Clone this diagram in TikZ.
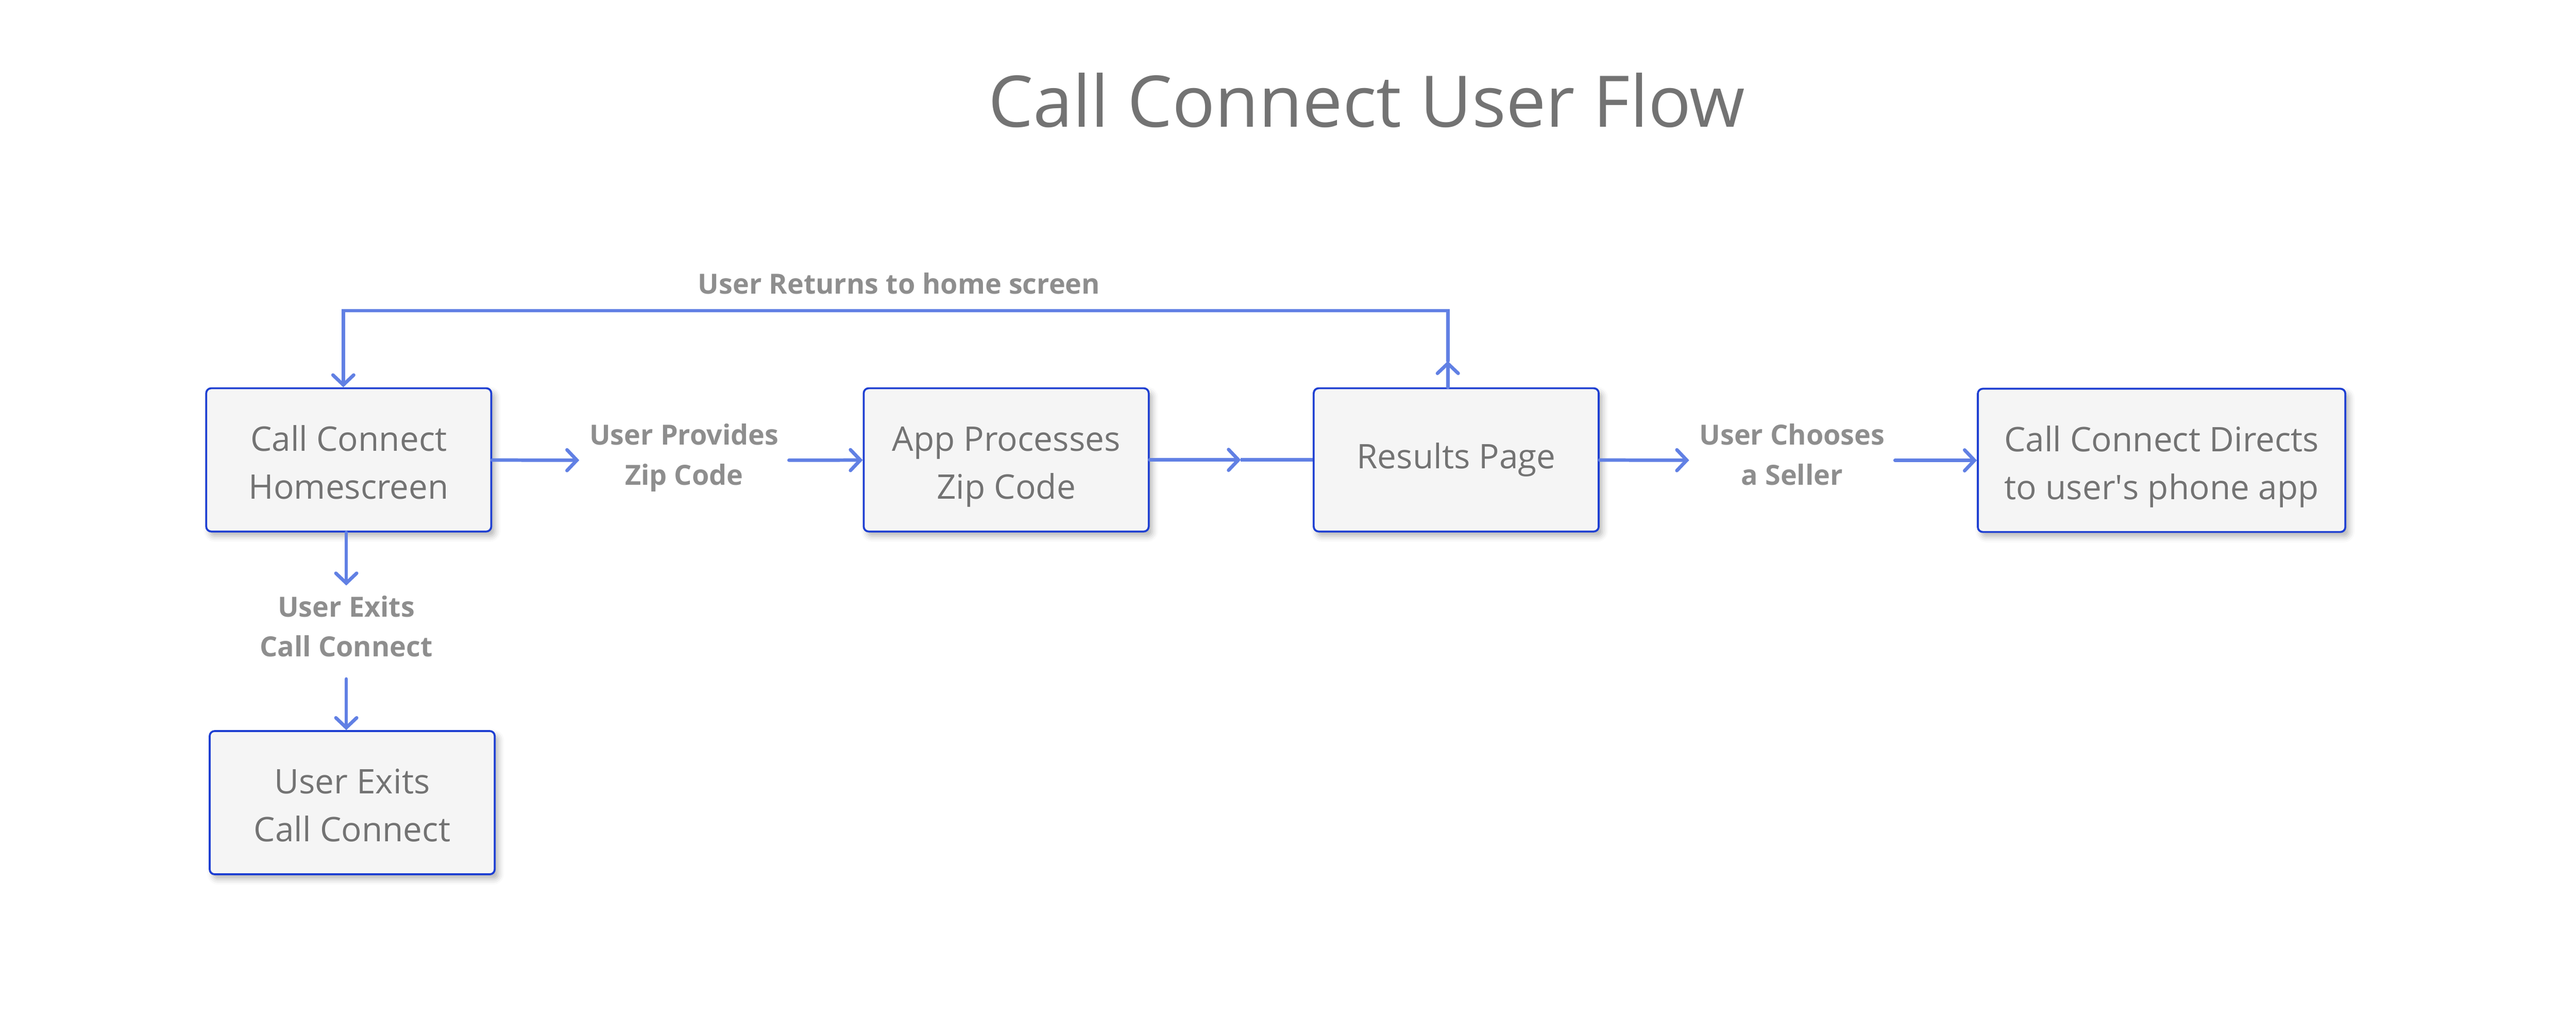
\documentclass[tikz,border=0pt]{standalone}
\usepackage{fontspec}
\setmainfont{Open Sans}
\usetikzlibrary{arrows.meta, positioning, shadows.blur}
\definecolor{bordecaja}{HTML}{1E3FD2}
\definecolor{fondocaja}{HTML}{F5F5F5}
\definecolor{textocaja}{HTML}{737373}
\definecolor{textoetiqueta}{HTML}{8E8E8E}
\definecolor{flujo}{HTML}{6180E4}
\begin{document}
\begin{tikzpicture}[x=1cm, y=-1cm,
  caja/.style={draw=bordecaja, line width=1.1pt, rounded corners=0.1cm, fill=fondocaja,
    minimum width=5.77cm, minimum height=2.9cm, align=center, text=textocaja,
    font=\fontsize{19.5pt}{27.6pt}\selectfont,
    blur shadow={shadow xshift=0.07cm, shadow yshift=-0.09cm, shadow blur radius=0.12cm, shadow opacity=30}},
  dos lineas/.style={text height=47pt, text depth=2.2pt},
  etiqueta/.style={align=center, text=textoetiqueta, inner sep=0.2cm,
    font=\bfseries\fontsize{16pt}{23pt}\selectfont,
    execute at begin node=\strut, execute at end node=\strut},
  flecha/.style={draw=flujo, line width=2pt, line cap=round,
    -{Straight Barb[length=0.2cm, width=0.42cm, line cap=round]}},
  linea/.style={draw=flujo, line width=2pt}]
\useasboundingbox (0,0) rectangle (52.15,20.60);

% Titulo
\node[anchor=base, text=textocaja, font=\fontsize{41pt}{48pt}\selectfont] (titulo) at (27.67,2.57) {Call Connect User Flow};

% Cajas
\node[caja, dos lineas] (home) at (7.06,9.31) {Call Connect\\Homescreen};
\node[caja, dos lineas] (app) at (20.37,9.31) {App Processes\\Zip Code};
\node[caja] (results) at (29.48,9.31) {Results Page};
\node[caja, dos lineas, minimum width=7.44cm] (directs) at (43.76,9.32) {Call Connect Directs\\to user\textquotesingle s phone app};
\node[caja, dos lineas] (exits) at (7.13,16.25) {User Exits\\Call Connect};

% Etiquetas
\node[etiqueta] (provides) at (13.85,9.32) {User Provides\\Zip Code};
\node[etiqueta] (chooses) at (36.28,9.32) {User Chooses\\a Seller};
\node[etiqueta] (exitlabel) at (7.01,12.80) {User Exits\\Call Connect};
\node[etiqueta] (returns) at (18.20,5.79) {User Returns to home screen};

% Flechas
\coordinate (medio) at (25.12,9.31);
\coordinate (subida) at (29.31,7.31);
\coordinate (esquina) at (29.31,6.29);
\coordinate (esquinaizq) at (6.95,6.29);
\draw[flecha] (home) -- (provides);
\draw[flecha] (provides) -- (app);
\draw[flecha] (app) -- (medio);
\draw[linea] (medio) -- (results);
\draw[flecha] (results) -- (chooses);
\draw[flecha] (chooses) -- (directs);
\draw[flecha] (home.south -| exitlabel.north) -- (exitlabel.north);
\draw[flecha] (exitlabel.south) -- (exitlabel.south |- exits.north);
\draw[flecha] (results.north -| subida) -- (subida);
\draw[flecha] (subida) -- (esquina) -- (esquinaizq) -- (esquinaizq |- home.north);
\end{tikzpicture}
\end{document}
